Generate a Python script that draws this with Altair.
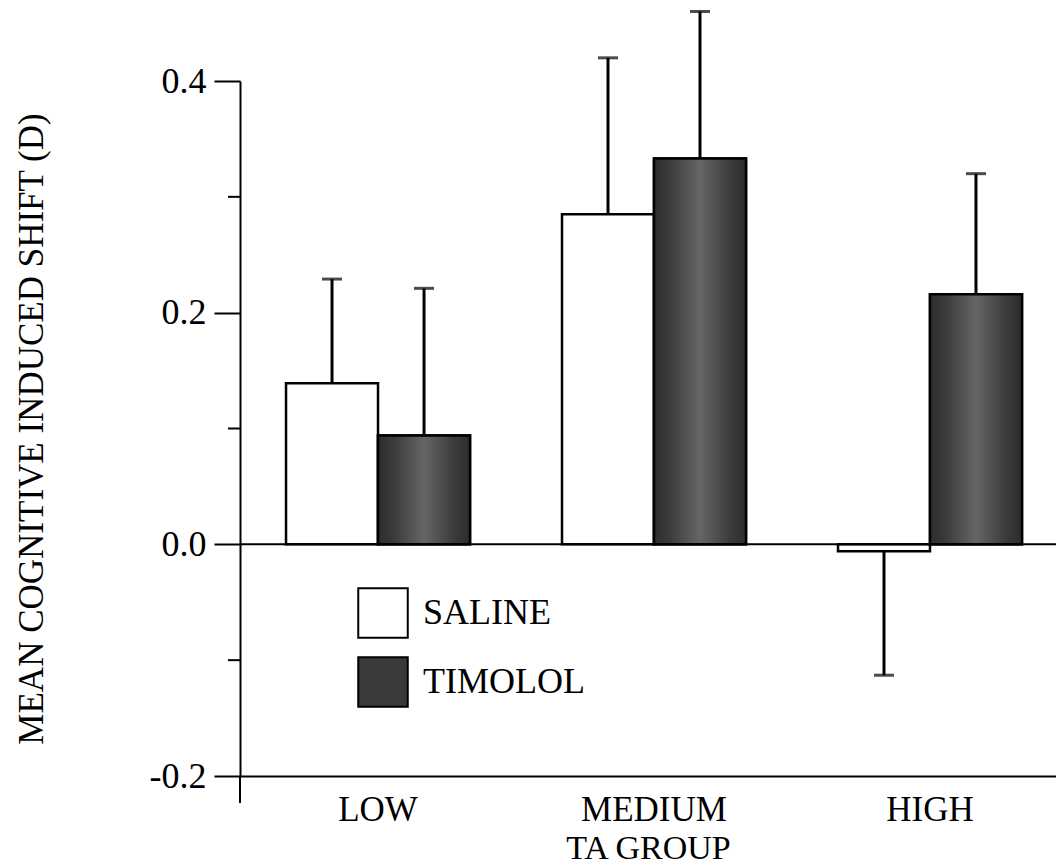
import altair as alt
import pandas as pd

# --- data -----------------------------------------------------------------
groups = ["LOW", "MEDIUM", "HIGH"]
treatments = ["SALINE", "TIMOLOL"]

saline_mean = [0.139, 0.285, -0.006]
saline_err_end = [0.229, 0.420, -0.113]     # end point of the one-sided error bar
timolol_mean = [0.094, 0.333, 0.216]
timolol_err_end = [0.221, 0.460, 0.320]

y_ticks = [-0.2, 0.0, 0.2, 0.4]
minor_ticks = [-0.1, 0.1, 0.3]
zero_line = [0.0]

rows = []
for i, g in enumerate(groups):
    rows.append(dict(group=g, treatment="SALINE", mean=saline_mean[i], err=saline_err_end[i]))
    rows.append(dict(group=g, treatment="TIMOLOL", mean=timolol_mean[i], err=timolol_err_end[i]))
df = pd.DataFrame(rows)

FONT = "Liberation Serif"
W, H = 816, 695

# --- shared encodings -----------------------------------------------------
x_scale = alt.Scale(domain=groups, paddingInner=1 / 3, paddingOuter=0.145, align=0.575)
x_axis = alt.Axis(
    title="TA GROUP", labelAngle=0, ticks=False, domainWidth=2, domainColor="black",
    labelFont=FONT, labelFontSize=35, labelPadding=16, labelColor="black",
    titleFont=FONT, titleFontSize=34, titleFontWeight="normal", titleColor="black",
    titleY=82, titleBaseline="alphabetic",
)
x_enc = alt.X("group:N", scale=x_scale, sort=groups, axis=x_axis)
xo_enc = alt.XOffset("treatment:N", sort=treatments,
                     scale=alt.Scale(domain=treatments, paddingInner=0, paddingOuter=0))

y_scale = alt.Scale(domain=[-0.2, 0.4], nice=False, zero=False)
y_axis = alt.Axis(
    values=y_ticks, grid=False,
    labelExpr="datum.value < 0 ? '-' + format(-datum.value, '.1f') : format(datum.value, '.1f')",
    tickSize=26, tickWidth=2, tickColor="black", domainWidth=2, domainColor="black",
    labelFont=FONT, labelFontSize=36, labelPadding=8, labelColor="black",
    title="MEAN COGNITIVE INDUCED SHIFT (D)", titleFont=FONT, titleFontSize=35,
    titleFontWeight="normal", titleColor="black", titleX=-198, titleY=H / 2,
    titleBaseline="alphabetic",
)


def y_of(field):
    return alt.Y(field, scale=y_scale, axis=y_axis)


# --- bars (legend comes from the fill scale) -------------------------------
bars = alt.Chart(df).mark_bar(stroke="black", strokeWidth=2.5).encode(
    x=x_enc,
    xOffset=xo_enc,
    y=y_of("mean:Q"),
    y2=alt.datum(0),
    fill=alt.Fill(
        "treatment:N",
        scale=alt.Scale(domain=treatments, range=["white", "#3a3a3a"]),
        legend=alt.Legend(
            title=None, orient="none", legendX=117, legendY=506, padding=0,
            symbolType="square", symbolSize=2450, symbolStrokeColor="black",
            symbolStrokeWidth=2, symbolOpacity=1,
            labelFont=FONT, labelFontSize=36, labelColor="black", labelOffset=14,
            labelLimit=0, rowPadding=11,
        ),
    ),
)

# textured look of the TIMOLOL bars: darker sides, lighter middle column
shade = alt.LinearGradient(
    gradient="linear", x1=0, y1=0, x2=1, y2=0,
    stops=[
        alt.GradientStop(color="#2c2c2c", offset=0),
        alt.GradientStop(color="#3c3c3c", offset=0.18),
        alt.GradientStop(color="#666666", offset=0.5),
        alt.GradientStop(color="#3c3c3c", offset=0.82),
        alt.GradientStop(color="#2c2c2c", offset=1),
    ],
)
timolol_bars = alt.Chart(df).transform_filter(
    alt.datum.treatment == "TIMOLOL"
).mark_bar(stroke="black", strokeWidth=2.5, fill=shade).encode(
    x=x_enc, xOffset=xo_enc, y=y_of("mean:Q"), y2=alt.datum(0),
)

# --- one-sided error bars --------------------------------------------------
err_lines = alt.Chart(df).mark_rule(color="black", strokeWidth=3).encode(
    x=x_enc, xOffset=xo_enc, y=y_of("mean:Q"), y2="err:Q",
)
err_caps = alt.Chart(df).mark_tick(color="black", thickness=3, size=20, orient="horizontal").encode(
    x=x_enc, xOffset=xo_enc, y=y_of("err:Q"),
)

# --- reference line at zero, minor ticks, axis tail ------------------------
zero = alt.Chart(pd.DataFrame({"v": zero_line})).mark_rule(color="black", strokeWidth=2).encode(
    y=y_of("v:Q"), x=alt.value(0), x2=alt.value(W),
)
minor = alt.Chart(pd.DataFrame({"v": minor_ticks})).mark_rule(color="black", strokeWidth=2).encode(
    y=y_of("v:Q"), x=alt.value(-12), x2=alt.value(0),
)
tail = alt.Chart(pd.DataFrame({"v": [-0.2]})).mark_rule(color="black", strokeWidth=2).encode(
    y=y_of("v:Q"), y2=alt.value(H + 27), x=alt.value(0),
)

chart = alt.layer(bars, timolol_bars, zero, err_lines, err_caps, minor, tail).properties(
    width=W,
    height=H,
    autosize=alt.AutoSizeParams(type="none"),
    padding={"left": 240, "top": 81, "right": 0, "bottom": 90},
    background="white",
).configure_view(stroke=None)

chart.save("out.html", embed_options={"renderer": "svg", "actions": False})
